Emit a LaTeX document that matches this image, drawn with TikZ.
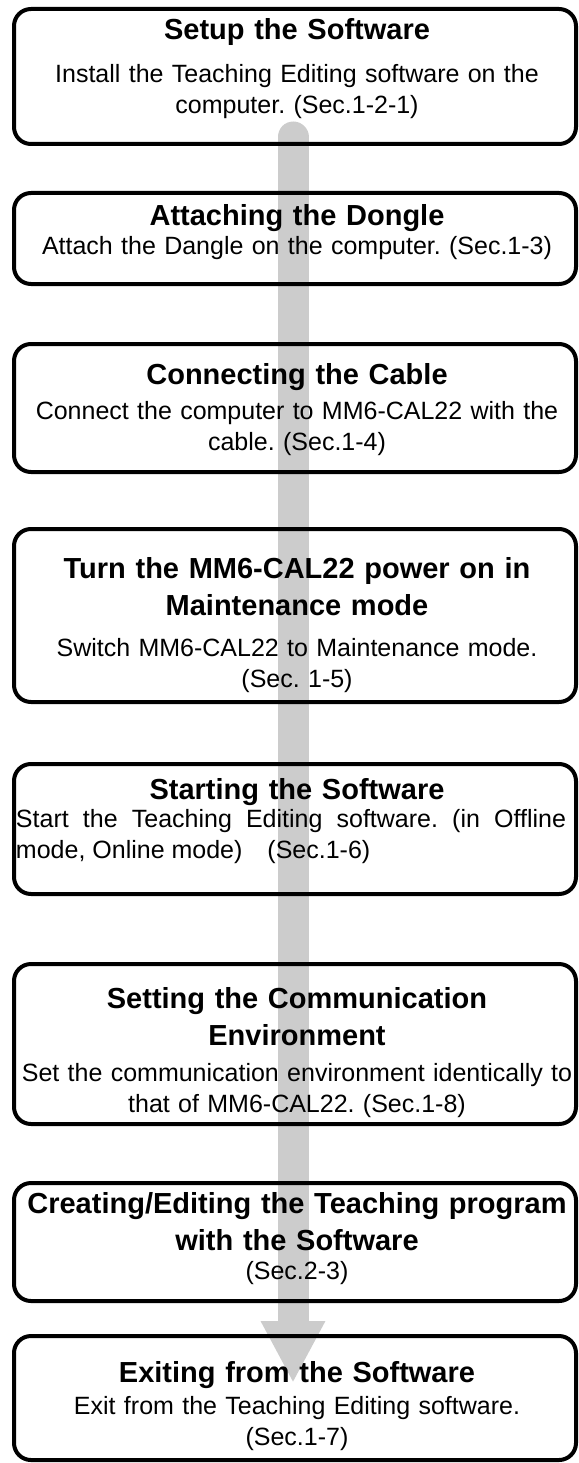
\documentclass[tikz,border=0pt]{standalone}
\usepackage{fontspec}
\setmainfont{Liberation Sans}
\usetikzlibrary{arrows.meta}
\frenchspacing

\begin{document}
\begin{tikzpicture}[x=1pt,y=1pt]
              % Define styles for boxes, texts and the flow arrow
              \tikzset{
                flow box/.style={rectangle, draw, line width=4pt, rounded corners=17pt, minimum width=562pt, inner sep=0pt},
                title text/.style={anchor=north, align=center, text width=560pt, inner sep=0pt, font=\fontsize{29}{37}\selectfont\bfseries},
                body text/.style={anchor=north, align=center, text width=560pt, inner sep=0pt, font=\fontsize{25}{31}\selectfont},
                flow arrow/.style={draw=black!20, line width=31pt, line cap=round, -{Triangle[width=60pt,length=62pt]}}
              }
              \useasboundingbox (0,0) rectangle (578,-1463);

              % Gray arrow behind the boxes
              \coordinate (flowstart) at (293,-137);
              \coordinate (flowend) at (293,-1383);
              \draw[flow arrow] (flowstart) -- (flowend);

              % First box
              \node[flow box, minimum height=135pt] (setup) at (295,-76.5) {};
              \node[title text] (setuphead) at (297,-18) {Setup the Software};
              \node[body text] (setupbody) at (297,-64) {Install the Teaching Editing software on the\\computer. (Sec.1-2-1)};

              % Second box
              \node[flow box, minimum height=91pt] (dongle) at (295,-238.5) {};
              \node[title text] (donglehead) at (297,-204) {Attaching the Dongle};
              \node[body text] (donglebody) at (297,-236) {Attach the Dangle on the computer. (Sec.1-3)};

              % Third box
              \node[flow box, minimum height=128pt] (cable) at (295,-408) {};
              \node[title text] (cablehead) at (297,-363) {Connecting the Cable};
              \node[body text] (cablebody) at (297,-401) {Connect the computer to MM6-CAL22 with the\\cable. (Sec.1-4)};

              % Fourth box
              \node[flow box, minimum height=173pt] (power) at (295,-615.5) {};
              \node[title text] (powerhead) at (297,-557) {Turn the MM6-CAL22 power on in\\Maintenance mode};
              \node[body text] (powerbody) at (297,-638) {Switch MM6-CAL22 to Maintenance mode.\\(Sec. 1-5)};

              % Fifth box
              \node[flow box, minimum height=130pt] (start) at (295,-829) {};
              \node[title text] (starthead) at (297,-778) {Starting the Software};
              \node[body text, align=justify, text width=550pt] (startbody) at (291,-809) {Start the Teaching Editing software. (in Offline mode, Online mode)\quad(Sec.1-6)};

              % Sixth box
              \node[flow box, minimum height=160pt] (comm) at (295,-1044) {};
              \node[title text] (commhead) at (297,-987) {Setting the Communication\\Environment};
              \node[body text] (commbody) at (297,-1063) {Set the communication environment identically to\\that of MM6-CAL22. (Sec.1-8)};

              % Seventh box
              \node[flow box, minimum height=118pt] (edit) at (295,-1242) {};
              \node[title text] (edithead) at (297,-1192) {Creating/Editing the Teaching program\\with the Software};
              \node[body text] (editbody) at (297,-1261) {(Sec.2-3)};

              % Eighth box
              \node[flow box, minimum height=124pt] (exit) at (295,-1398) {};
              \node[title text] (exithead) at (297,-1361) {Exiting from the Software};
              \node[body text] (exitbody) at (297,-1396) {Exit from the Teaching Editing software.\\(Sec.1-7)};
            \end{tikzpicture}
\end{document}
